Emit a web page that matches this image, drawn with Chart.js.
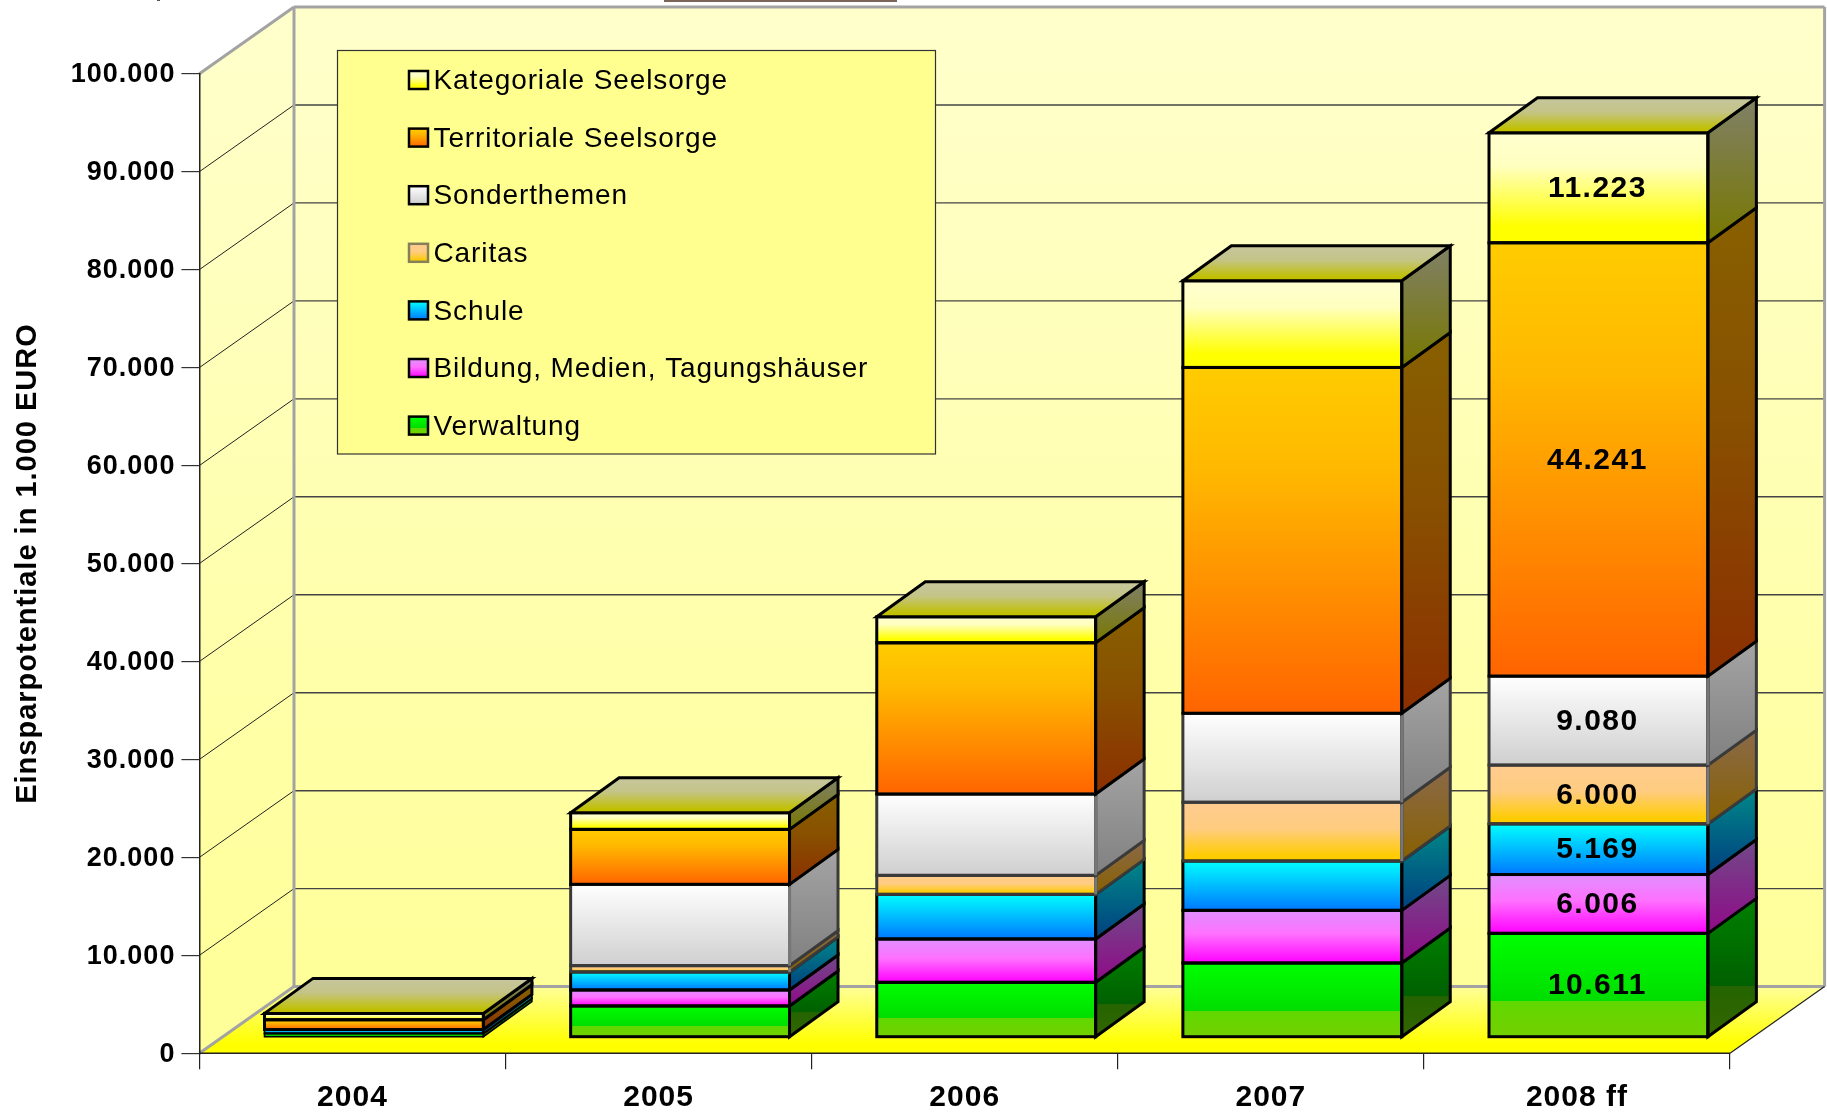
<!DOCTYPE html>
<html><head><meta charset="utf-8">
<style>html,body{margin:0;padding:0;background:#fff}canvas{display:block}</style>
<script src="https://cdn.jsdelivr.net/npm/chart.js@4"></script>
</head><body><canvas id="c" width="1827" height="1112"></canvas>
<script>
const categories = ['2004','2005','2006','2007','2008 ff'];
const seriesNames = ['Verwaltung','Bildung, Medien, Tagungshäuser','Schule','Caritas','Sonderthemen','Territoriale Seelsorge','Kategoriale Seelsorge'];
const verwaltung  = [380, 3197, 5612, 7585, 10611];
const bildung     = [30, 1633, 4422, 5374, 6006];
const schule      = [340, 1837, 4558, 5034, 5169];
const caritas     = [20, 646, 1939, 6000, 6000];
const sonder      = [20, 8299, 8299, 9080, 9080];
const territorial = [1000, 5612, 15442, 35306, 44241];
const kategorial  = [650, 1701, 2653, 8843, 11223];
const seriesValues = [verwaltung,bildung,schule,caritas,sonder,territorial,kategorial];
const yTicksMax = 100000, yStep = 10000;
const labelledCategory = 4;

// styles
const FONT = '"Liberation Sans", Arial, sans-serif';
const frontStops = [
 [[0,'#00ff00'],[.65,'#00dd00'],[.65,'#60d800'],[1,'#74d000']],
 [[0,'#e090ff'],[.45,'#ff70ff'],[1,'#ff00ff']],
 [[0,'#00ffff'],[1,'#0078ff']],
 [[0,'#ffcc90'],[.45,'#ffcc80'],[.92,'#ffcc00'],[1,'#ffcc00']],
 [[0,'#ffffff'],[1,'#cfcfcf']],
 [[0,'#ffcc00'],[.3,'#ffb800'],[1,'#ff6400']],
 [[0,'#ffffd0'],[.3,'#ffffc0'],[.85,'#ffff00'],[1,'#ffff00']]
];
const sideStops = [
 [[0,'#008000'],[.63,'#006000'],[.63,'#246400'],[1,'#346600']],
 [[0,'#704a88'],[1,'#900a88']],
 [[0,'#008888'],[1,'#004080']],
 [[0,'#8a6a4a'],[1,'#886000']],
 [[0,'#a4a4a4'],[1,'#808080']],
 [[0,'#886000'],[.45,'#885000'],[1,'#8c2f00']],
 [[0,'#808068'],[1,'#787800']]
];
const topStops = [[0,'#c6c69e'],[.4,'#c4c488'],[.9,'#c0c000'],[1,'#c0c000']];
const edge = ['#000','#000','#000','#3a3a3a','#3a3a3a','#000','#000'];
const swatchEdge = ['#000','#000','#000','#85805a','#000','#000','#000'];
const DX = 21.5, DY = -16, DEPTHX = 48.5, DEPTHY = -35, WALLX = 94.6, WALLY = -66.7;

function grad(ctx, y0, y1, stops){
  const g = ctx.createLinearGradient(0,y0,0,y1);
  stops.forEach(s=>g.addColorStop(s[0],s[1]));
  return g;
}
function poly(ctx, pts){
  ctx.beginPath(); pts.forEach((p,i)=>i?ctx.lineTo(p[0],p[1]):ctx.moveTo(p[0],p[1])); ctx.closePath();
}
function line(ctx,x0,y0,x1,y1,c,w){
  ctx.strokeStyle=c; ctx.lineWidth=w; ctx.beginPath(); ctx.moveTo(x0,y0); ctx.lineTo(x1,y1); ctx.stroke();
}

const scene = {
  id:'scene',
  beforeDraw(chart){
    const c=chart.ctx, a=chart.chartArea, y=chart.scales.y;
    c.letterSpacing='1px';
    c.save();
    c.fillStyle='#7a6458'; c.fillRect(664,0,233,2); c.fillStyle='#555'; c.fillRect(157,0,3,1);
    const L=a.left,R=a.right,T=a.top,B=a.bottom,bT=T+WALLY,bB=B+WALLY,bL=L+WALLX,bR=R+WALLX;
    c.fillStyle=grad(c,bT,bB,[[0,'#ffffcc'],[1,'#ffff99']]);
    c.fillRect(bL,bT,bR-bL,bB-bT);
    poly(c,[[L,T],[bL,bT],[bL,bB],[L,B]]); c.fill();
    c.fillStyle=grad(c,bB,B,[[0,'#ffff99'],[.85,'#ffff00'],[1,'#ffff00']]);
    poly(c,[[L,B],[bL,bB],[bR,bB],[R,B]]); c.fill();
    y.ticks.forEach(t=>{
      if(t.value===0||t.value===yTicksMax) return;
      const p=y.getPixelForValue(t.value);
      line(c,L,p,bL,p+WALLY,'#222',1);
      line(c,bL,p+WALLY,bR,p+WALLY,'#444',1.4);
    });
    const gr='#a3a3a3';
    line(c,bL,bT,bR,bT,gr,3); line(c,bL,bT,bL,bB,gr,3); line(c,bR,bT,bR,bB,gr,3); line(c,bL,bB,bR,bB,gr,3);
    line(c,L,T,bL,bT,gr,3); line(c,L,B,bL,bB,gr,3);
    line(c,R,B,bR,bB,'#222',1.2);
    line(c,L,B,R,B,'#222',1.5);
    c.restore();
  },
  beforeDatasetsDraw(chart){ chart.ctx.save(); chart.ctx.translate(DX,DY); },
  afterDatasetsDraw(chart){
    const c=chart.ctx; c.restore(); c.save();
    c.lineJoin='miter';
    categories.forEach((_,i)=>{
      seriesNames.forEach((_,s)=>{
        const el=chart.getDatasetMeta(s).data[i].getProps(['x','y','base','width'],true);
        const l=el.x-el.width/2+DX, r=el.x+el.width/2+DX, t=el.y+DY, b=el.base+DY;
        const w=(b-t)<6?1.6:3;
        const side=[[r,b],[r,t],[r+DEPTHX,t+DEPTHY],[r+DEPTHX,b+DEPTHY]];
        c.fillStyle=grad(c,t+DEPTHY,b,sideStops[s]); poly(c,side); c.fill();
        c.lineWidth=w; c.strokeStyle=edge[s]; c.strokeRect(l,t,r-l,b-t); poly(c,side); c.stroke();
        if(edge[s]!=='#000'&&w===3) line(c,r,t,r,b,'#777',3);
        if(s===seriesNames.length-1){
          const cap=[[l,t],[l+DEPTHX,t+DEPTHY],[r+DEPTHX,t+DEPTHY],[r,t]];
          c.fillStyle=grad(c,t+DEPTHY,t,topStops); poly(c,cap); c.fill();
          c.strokeStyle='#000'; c.lineWidth=3; poly(c,cap); c.stroke();
        }
      });
    });
    // value labels
    c.font='bold 30px '+FONT; c.letterSpacing='1.5px'; c.fillStyle='#000'; c.textAlign='center'; c.textBaseline='middle';
    seriesNames.forEach((_,s)=>{
      const el=chart.getDatasetMeta(s).data[labelledCategory].getProps(['x','y','base'],true);
      c.fillText(seriesValues[s][labelledCategory].toLocaleString('de-DE'), el.x+DX-1, (el.y+el.base)/2+DY+1);
    });
    // legend
    const lx=337.5, ly=50.5, lw=598, lh=403.5;
    c.fillStyle='#ffff90'; c.fillRect(lx,ly,lw,lh);
    c.strokeStyle='#333'; c.lineWidth=1.2; c.strokeRect(lx,ly,lw,lh);
    c.font='28px '+FONT; c.letterSpacing='0.9px'; c.textAlign='left';
    for(let k=0;k<seriesNames.length;k++){
      const s=seriesNames.length-1-k, cy=80+k*57.6;
      c.fillStyle=grad(c,cy-9,cy+9,frontStops[s]);
      c.fillRect(409,cy-9,19,18);
      c.strokeStyle=swatchEdge[s]; c.lineWidth=2.5; c.strokeRect(409,cy-9,19,18);
      c.fillStyle='#000';
      c.fillText(seriesNames[s],433.5,cy+1.5);
    }
    c.restore();
  }
};

function frontFill(ctx){
  const chart=ctx.chart;
  if(ctx.dataIndex===undefined||!chart.chartArea) return '#888';
  const s=ctx.datasetIndex,i=ctx.dataIndex,y=chart.scales.y;
  let base=0; for(let k=0;k<s;k++) base+=seriesValues[k][i];
  return grad(chart.ctx,y.getPixelForValue(base+seriesValues[s][i]),y.getPixelForValue(base),frontStops[s]);
}

new Chart(document.getElementById('c'),{
  type:'bar',
  plugins:[scene],
  data:{labels:categories,datasets:seriesNames.map((n,s)=>({
    label:n,data:seriesValues[s],backgroundColor:frontFill,borderWidth:0,clip:false,
    barPercentage:0.715,categoryPercentage:1
  }))},
  options:{
    responsive:false,animation:false,
    events:[],
    layout:{padding:{top:73.7,right:97,left:0,bottom:0}},
    plugins:{legend:{display:false},title:{display:false},tooltip:{enabled:false}},
    scales:{
      x:{stacked:true,offset:true,
        grid:{offset:true,drawOnChartArea:false,tickLength:16,color:'#222',lineWidth:1.2},
        border:{display:false},
        ticks:{color:'#000',font:{family:FONT,weight:'bold',size:30},padding:10,maxRotation:0},
        afterFit(sc){sc.height=58.7}
      },
      y:{stacked:true,min:0,max:yTicksMax,
        grid:{drawOnChartArea:false,tickLength:18,color:'#333',lineWidth:1.2},
        border:{display:true,color:'#222',width:1.5},
        ticks:{stepSize:yStep,color:'#000',padding:6,labelOffset:1,font:{family:FONT,weight:'bold',size:27},
          callback:v=>Number(v).toLocaleString('de-DE')},
        title:{display:true,text:'Einsparpotentiale in 1.000 EURO',color:'#000',font:{family:FONT,weight:'bold',size:29},padding:{top:11,bottom:0}},
        afterFit(sc){sc.width=199.4}
      }
    }
  }
});
</script></body></html>
